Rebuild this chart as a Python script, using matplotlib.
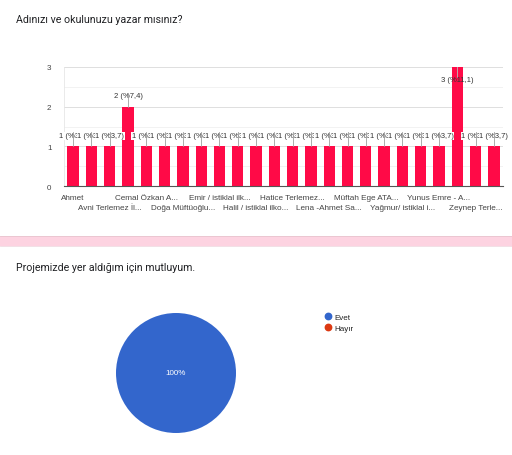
import numpy as np
import matplotlib.pyplot as plt
from matplotlib.patches import Rectangle
from matplotlib.lines import Line2D
from matplotlib.ticker import MultipleLocator, FixedLocator

# --- veriler ---
bar_title = "Adınızı ve okulunuzu yazar mısınız?"
values = [1, 1, 1, 2, 1, 1, 1, 1, 1, 1, 1, 1, 1, 1, 1, 1, 1, 1, 1, 1, 1, 3, 1, 1]
# sadece her ikinci çubuğun etiketi görünüyor
row1_labels = ["Ahmet", "Cemal Özkan A...", "Emir / istiklal ilk...",
               "Hatice Terlemez...", "Müftah Ege ATA...", "Yunus Emre - A..."]
row2_labels = ["Avni Terlemez İl...", "Doğa Müftüoğlu...", "Halil / istiklal ilko...",
               "Lena -Ahmet Sa...", "Yağmur/ istiklal i...", "Zeynep Terle..."]

pie_title = "Projemizde yer aldığım için mutluyum."
pie_labels = ["Evet", "Hayır"]
pie_values = [100, 0]
pie_colors = ["#3366cc", "#dc3912"]

BAR_COLOR = "#ff0a47"
TXT = "#444444"
CHART_FONT = ["Liberation Sans", "DejaVu Sans"]
TITLE_FONT = ["Roboto", "DejaVu Sans"]

W, H = 512, 456
fig = plt.figure(figsize=(W / 100, H / 100), dpi=100)
fig.patch.set_facecolor("white")

# pembe arka plan şeridi (iki kart arası)
fig.patches.append(Rectangle((0, 1 - 247 / H), 1, 10 / H, transform=fig.transFigure,
                             facecolor="#fdd3e1", edgecolor="none", zorder=0))
fig.add_artist(Line2D([0, 1], [1 - 237 / H] * 2, transform=fig.transFigure,
                      color="#e8c4cf", lw=0.6))
fig.add_artist(Line2D([0, 1], [1 - 247 / H] * 2, transform=fig.transFigure,
                      color="#f0dbe2", lw=0.6))

# --- çubuk grafik ---
fig.text(16 / W, 1 - 20 / H, bar_title, fontsize=7.7, color="#202124",
         family=TITLE_FONT, va="center", ha="left")

ax = fig.add_axes([64 / W, 1 - 187 / H, (503 - 64) / W, (187 - 68) / H])
x = np.arange(len(values))
total = sum(values)
ax.bar(x, values, width=0.62, color=BAR_COLOR, zorder=2)
ax.set_xlim(-0.5, len(values) - 0.5)
ax.set_ylim(0, 3)

ax.yaxis.set_major_locator(MultipleLocator(1))
ax.yaxis.set_minor_locator(MultipleLocator(0.5))
ax.grid(axis="y", which="major", color="#dedede", lw=0.7, zorder=0)
ax.grid(axis="y", which="minor", color="#f0f0f0", lw=0.6, zorder=0)
for s in ["top", "right"]:
    ax.spines[s].set_visible(False)
ax.spines["left"].set_color("#e6e6e6")
ax.spines["left"].set_linewidth(0.6)
ax.spines["bottom"].set_color("#555555")
ax.spines["bottom"].set_linewidth(0.8)
ax.spines["bottom"].set_zorder(3)

ax.tick_params(axis="y", which="both", length=0, pad=9, labelsize=5.8, labelcolor=TXT)
for t in ax.get_yticklabels():
    t.set_family(CHART_FONT)

# iki sıra x etiketi: üst sıra major, alt sıra minor
ax.xaxis.set_major_locator(FixedLocator(x[0::4]))
ax.xaxis.set_minor_locator(FixedLocator(x[2::4]))
ax.set_xticklabels(row1_labels, fontsize=5.9, color=TXT, family=CHART_FONT)
ax.set_xticklabels(row2_labels, minor=True, fontsize=5.9, color=TXT, family=CHART_FONT)
ax.tick_params(axis="x", which="major", length=0, pad=6)
ax.tick_params(axis="x", which="minor", length=0, pad=13)

# değer etiketleri
for xi, v in zip(x, values):
    pct = f"{v / total * 100:.1f}".replace(".", ",")
    label = f"{v} (%{pct})"
    if v >= 3:
        ty = v - 0.32
        ax.plot([xi, xi], [v, ty + 0.07], color="#bbbbbb", lw=0.6, zorder=4)
        ax.text(xi, ty, label, ha="center", va="center", fontsize=5.5,
                color="#333333", family=CHART_FONT, zorder=5)
    else:
        ty = v + 0.27
        ax.plot([xi, xi], [v, ty + 0.08], color="#9e9e9e", lw=0.6, zorder=6)
        ax.text(xi, ty, label, ha="center", va="center", fontsize=5.5,
                color="#333333", family=CHART_FONT, zorder=5,
                bbox=dict(facecolor="white", edgecolor="none", pad=0.3))

# --- pasta grafik ---
fig.text(16 / W, 1 - 268 / H, pie_title, fontsize=7.7, color="#202124",
         family=TITLE_FONT, va="center", ha="left")

pax = fig.add_axes([(176 - 60) / W, 1 - (374 + 60) / H, 120 / W, 120 / H])
wedges, _, autotexts = pax.pie(
    pie_values, colors=pie_colors, startangle=90, counterclock=False,
    autopct=lambda p: f"{p:.0f}%" if p > 0 else "", pctdistance=0,
    textprops=dict(color="white", fontsize=5.8, family=CHART_FONT))
pax.set_xlim(-1, 1)
pax.set_ylim(-1, 1)
pax.set_aspect("equal")

handles = [Line2D([], [], marker="o", ls="none", markersize=4.6,
                  markerfacecolor=c, markeredgecolor=c) for c in pie_colors]
leg = fig.legend(handles, pie_labels, loc="upper left",
                 bbox_to_anchor=(325 / W, 1 - 314 / H), frameon=False,
                 handlelength=0.8, handletextpad=0.4,
                 labelspacing=0.45, borderaxespad=0, borderpad=0,
                 prop=dict(family=CHART_FONT, size=5.8))
for t in leg.get_texts():
    t.set_color("#222222")

fig.savefig("out.png", dpi=100, facecolor=fig.get_facecolor())
